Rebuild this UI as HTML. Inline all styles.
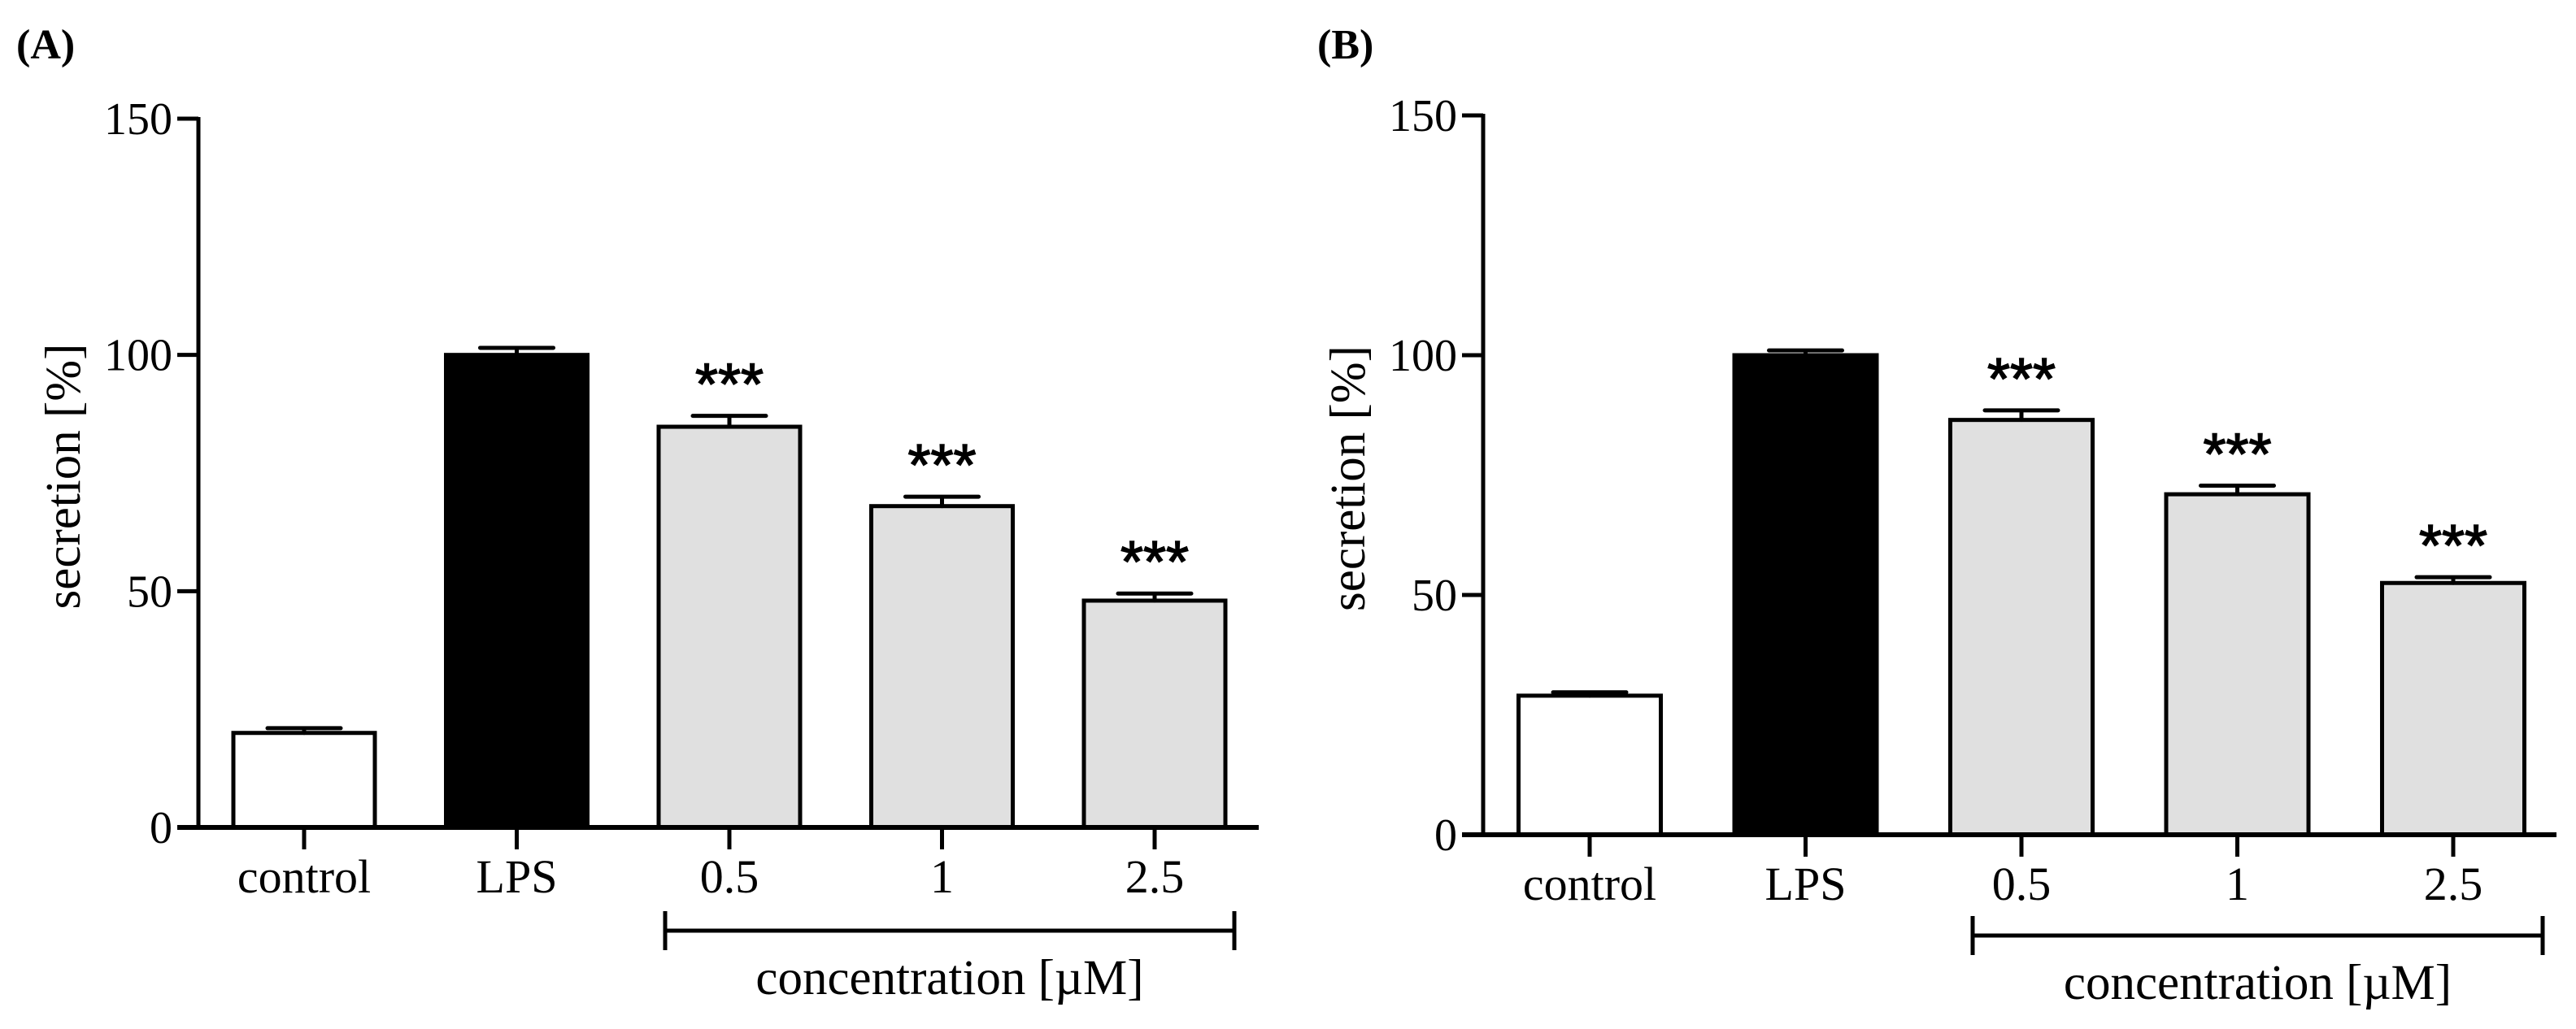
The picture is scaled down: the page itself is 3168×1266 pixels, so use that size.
<!DOCTYPE html>
<html><head><meta charset="utf-8">
<style>
html,body{margin:0;padding:0;background:#fff;}
svg{display:block;}
text{font-family:"Liberation Serif",serif;fill:#000;}
</style></head>
<body>
<svg id="chart" width="3168" height="1266" viewBox="0 0 3168 1266" xmlns="http://www.w3.org/2000/svg"></svg>
<script>
const categories = ["control","LPS","0.5","1","2.5"];
const valuesA = [20, 100, 84.8, 68, 48];
const errorsA = [1, 1.5, 2.3, 2, 1.5];
const valuesB = [29, 100, 86.5, 71, 52.5];
const errorsB = [0.7, 1, 2, 1.8, 1.2];
const sigA = ["", "", "***", "***", "***"];
const sigB = ["", "", "***", "***", "***"];
const yTicks = [0, 50, 100, 150];
const fills = ["#ffffff","#000000","#e0e0e0","#e0e0e0","#e0e0e0"];

const NS = "http://www.w3.org/2000/svg";
const svg = document.getElementById("chart");
function mk(tag, attrs, parent){
  const e = document.createElementNS(NS, tag);
  for (const k in attrs) e.setAttribute(k, attrs[k]);
  (parent||svg).appendChild(e);
  return e;
}

function panel(cfg){
  const g = mk("g", {});
  
  
  const yScale = v => cfg.y0 - (cfg.y0 - cfg.y150) * v / 150;
  const xCenter = i => cfg.firstCenter + i * cfg.step;

  const pl = mk("text", {x: cfg.labelX, y: 72, "font-size": 52, "font-weight": "bold"}, g);
  pl.textContent = cfg.label;
  
  

  cfg.values.forEach((v, i) => {
    const cx = xCenter(i);
    const top = yScale(v);
    const r = mk("rect", {x: cx - cfg.barW/2, y: top, width: cfg.barW, height: cfg.y0 - top,
      fill: fills[i], stroke: "#000", "stroke-width": 5}, g);
    
    
    const et = yScale(v + cfg.errors[i]);
    const eb = mk("path", {d: `M${cx} ${top} V${et} M${cx-45} ${et} H${cx+45}`, stroke: "#000",
      "stroke-width": 5, "stroke-linecap": "round", fill: "none"}, g);
    
    
    if (cfg.sig[i]) {
      const s = mk("text", {x: cx, y: et - 14, "text-anchor": "middle", "font-size": 72,
        style: "font-family:'Liberation Sans',sans-serif;stroke:#000;stroke-width:1.5"}, g);
      s.textContent = cfg.sig[i];
      
      
    }
    const tk = mk("line", {x1: cx, x2: cx, y1: cfg.y0, y2: cfg.y0 + 27, stroke: "#000", "stroke-width": 5}, g);
    
    
    const tl = mk("text", {x: cx, y: cfg.y0 + 80, "text-anchor": "middle", "font-size": 58}, g);
    tl.textContent = categories[i];
    
    
  });

  const ya = mk("line", {x1: cfg.axisX, x2: cfg.axisX, y1: cfg.y150 - 2, y2: cfg.y0, stroke: "#000", "stroke-width": 5}, g);
  
  
  const xa = mk("line", {x1: cfg.axisX - 26, x2: cfg.xEnd, y1: cfg.y0, y2: cfg.y0, stroke: "#000", "stroke-width": 6}, g);
  
  
  yTicks.forEach(t => {
    const y = yScale(t);
    const l = mk("line", {x1: cfg.axisX - 26, x2: cfg.axisX, y1: y, y2: y, stroke: "#000", "stroke-width": 5}, g);
    
    
    const tx = mk("text", {x: cfg.axisX - 32, y: y + 19, "text-anchor": "end", "font-size": 56}, g);
    tx.textContent = t;
    
    
  });
  const yt = mk("text", {x: 0, y: 0, "text-anchor": "middle", "font-size": 61,
    transform: `translate(${cfg.yTitleX},${(cfg.y0 + cfg.y150)/2 + 4}) rotate(-90)`}, g);
  yt.textContent = "secretion [%]";
  
  

  const br = mk("path", {d: `M${cfg.brX1} ${cfg.brY-24} V${cfg.brY+24} M${cfg.brX1} ${cfg.brY} H${cfg.brX2} M${cfg.brX2} ${cfg.brY-24} V${cfg.brY+24}`,
    stroke: "#000", "stroke-width": 5, fill: "none"}, g);
  
  
  const ct = mk("text", {x: (cfg.brX1 + cfg.brX2)/2, y: cfg.brY + 78, "text-anchor": "middle", "font-size": 61}, g);
  ct.textContent = "concentration [µM]";
  
  
}

panel({name: "panel-a", label: "(A)", labelX: 20, values: valuesA, errors: errorsA, sig: sigA,
  axisX: 244, y0: 1018, y150: 146, xEnd: 1548, firstCenter: 374, step: 261.5, barW: 174,
  yTitleX: 98, brX1: 818, brX2: 1518, brY: 1145});
panel({name: "panel-b", label: "(B)", labelX: 1620, values: valuesB, errors: errorsB, sig: sigB,
  axisX: 1824, y0: 1027, y150: 142, xEnd: 3144, firstCenter: 1955, step: 265.5, barW: 175,
  yTitleX: 1678, brX1: 2426, brX2: 3127, brY: 1151});
</script>
</body></html>
